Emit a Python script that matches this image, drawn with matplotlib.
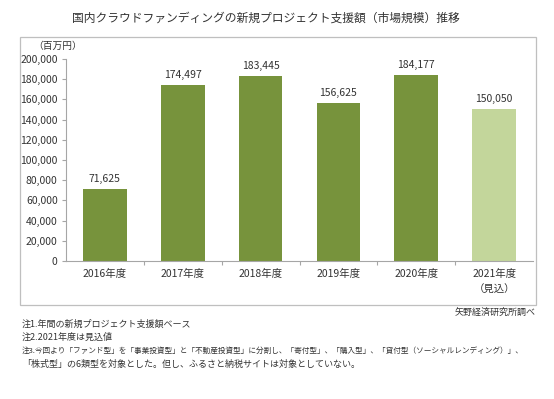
import matplotlib
matplotlib.use("Agg")
import matplotlib.pyplot as plt
from matplotlib.patches import Rectangle
from matplotlib.ticker import FuncFormatter, MultipleLocator

plt.rcParams['font.family'] = ['Noto Sans CJK JP', 'DejaVu Sans']

categories = ["2016年度", "2017年度", "2018年度", "2019年度", "2020年度", "2021年度\n（見込）"]
values = [71625, 174497, 183445, 156625, 184177, 150050]
colors = ["#77933C", "#77933C", "#77933C", "#77933C", "#77933C", "#C3D69B"]

title = "国内クラウドファンディングの新規プロジェクト支援額（市場規模）推移"
unit = "（百万円）"
source = "矢野経済研究所調べ"
notes = [
    "注1.年間の新規プロジェクト支援額ベース",
    "注2.2021年度は見込値",
    "注3.今回より「ファンド型」を「事業投資型」と「不動産投資型」に分割し、「寄付型」、「購入型」、「貸付型（ソーシャルレンディング）」、",
    "「株式型」の6類型を対象とした。但し、ふるさと納税サイトは対象としていない。",
]
note_sizes = [6.5, 6.5, 5.5, 6.5]

W, H = 554, 399
fig = plt.figure(figsize=(W / 100, H / 100), dpi=100)
fig.patch.set_facecolor("white")

# outer box
fig.patches.append(Rectangle((20 / W, 1 - 305 / H), (536 - 20) / W, (305 - 37) / H,
                             transform=fig.transFigure, fill=False,
                             edgecolor="#BFBFBF", linewidth=0.9))

ax = fig.add_axes([66 / W, 1 - 261 / H, (533 - 66) / W, (261 - 59) / H])
x = range(len(categories))
bars = ax.bar(x, values, width=0.56, color=colors)
for xi, v in zip(x, values):
    ax.text(xi, v + 5000, f"{v:,}", ha="center", va="bottom", fontsize=7.5, color="#333333")

ax.set_xlim(-0.5, len(categories) - 0.5)
ax.set_ylim(0, 200000)
ax.yaxis.set_major_locator(MultipleLocator(20000))
ax.yaxis.set_major_formatter(FuncFormatter(lambda v, p: f"{int(v):,}"))
ax.set_xticks([i + 0.5 for i in range(len(categories) - 1)], minor=False)
ax.set_xticklabels([])
ax.set_xticks(list(x), minor=True)
ax.set_xticklabels(categories, minor=True, fontsize=7.5, color="#333333", linespacing=1.7)
ax.tick_params(axis="x", which="minor", length=0, pad=6)
ax.tick_params(axis="x", which="major", length=3, direction="out", color="#A6A6A6")
ax.tick_params(axis="y", labelsize=7.5, labelcolor="#333333", length=3, color="#A6A6A6", pad=3)
for s in ["top", "right"]:
    ax.spines[s].set_visible(False)
ax.spines["left"].set_color("#A6A6A6")
ax.spines["bottom"].set_color("#A6A6A6")
ax.spines["left"].set_linewidth(0.8)
ax.spines["bottom"].set_linewidth(0.8)

fig.text(266 / W, 1 - 18 / H, title, ha="center", va="center", fontsize=8.5,
         color="#333333")
fig.text(58 / W, 1 - 46 / H, unit, ha="center", va="center", fontsize=7, color="#333333")
fig.text(536 / W, 1 - 312 / H, source, ha="right", va="center", fontsize=6.5, color="#333333")
for i, (n, fs) in enumerate(zip(notes, note_sizes)):
    fig.text(22 / W, 1 - (324 + 13.3 * i) / H, n, ha="left", va="center", fontsize=fs,
             color="#333333")

fig.savefig("out.png", dpi=100, facecolor="white")
